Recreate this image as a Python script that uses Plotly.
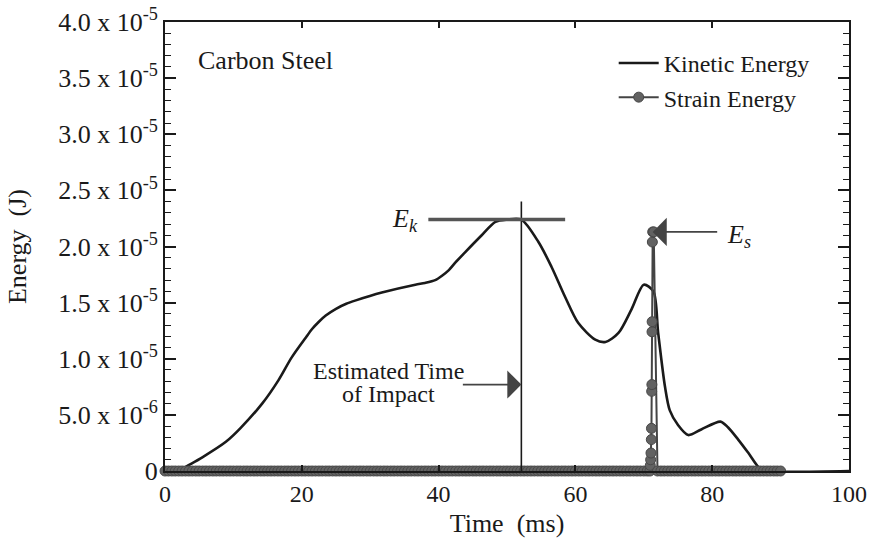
import plotly.graph_objects as go

# ---------------- data ----------------
kinetic_time = [0, 2.0, 3.1, 5.4, 8.9, 11.0, 14.2, 16.6, 18.5, 20.6, 21.5, 22.5, 23.5,
                25.0, 26.5, 27.9, 31.7, 36.6, 38.0, 39.5, 40.5, 41.5, 42.5, 43.9, 46.3,
                48.3, 50.0, 52.1, 54.6, 56.5, 58.5, 60.4, 62.9, 64.4, 66.3, 68.2, 70.0,
                71.4, 72.1, 73.1, 73.8, 75.0, 76.5, 78.4, 81.2, 82.3, 83.8, 85.3, 87.0,
                88.0, 100.0]
kinetic_energy = [0, 0, 0.04e-5, 0.12e-5, 0.26e-5, 0.38e-5, 0.60e-5, 0.81e-5, 1.01e-5,
                  1.19e-5, 1.265e-5, 1.33e-5, 1.385e-5, 1.445e-5, 1.49e-5, 1.52e-5,
                  1.59e-5, 1.66e-5, 1.675e-5, 1.70e-5, 1.74e-5, 1.79e-5, 1.86e-5,
                  1.95e-5, 2.10e-5, 2.22e-5, 2.24e-5, 2.24e-5, 2.04e-5, 1.82e-5, 1.55e-5,
                  1.32e-5, 1.17e-5, 1.15e-5, 1.23e-5, 1.44e-5, 1.66e-5, 1.60e-5, 1.23e-5,
                  0.75e-5, 0.54e-5, 0.41e-5, 0.32e-5, 0.37e-5, 0.44e-5, 0.39e-5, 0.28e-5,
                  0.16e-5, 0.02e-5, 0, 0]

strain_time = [0, 0.5, 1, 1.5, 2, 2.5, 3, 3.5, 4, 4.5, 5, 5.5, 6, 6.5, 7, 7.5, 8, 8.5,
               9, 9.5, 10, 10.5, 11, 11.5, 12, 12.5, 13, 13.5, 14, 14.5, 15, 15.5, 16,
               16.5, 17, 17.5, 18, 18.5, 19, 19.5, 20, 20.5, 21, 21.5, 22, 22.5, 23,
               23.5, 24, 24.5, 25, 25.5, 26, 26.5, 27, 27.5, 28, 28.5, 29, 29.5, 30,
               30.5, 31, 31.5, 32, 32.5, 33, 33.5, 34, 34.5, 35, 35.5, 36, 36.5, 37,
               37.5, 38, 38.5, 39, 39.5, 40, 40.5, 41, 41.5, 42, 42.5, 43, 43.5, 44,
               44.5, 45, 45.5, 46, 46.5, 47, 47.5, 48, 48.5, 49, 49.5, 50, 50.5, 51,
               51.5, 52, 52.5, 53, 53.5, 54, 54.5, 55, 55.5, 56, 56.5, 57, 57.5, 58,
               58.5, 59, 59.5, 60, 60.5, 61, 61.5, 62, 62.5, 63, 63.5, 64, 64.5, 65,
               65.5, 66, 66.5, 67, 67.5, 68, 68.5, 69, 69.5, 70, 70.5,
               70.9, 70.95, 71.0, 71.05, 71.1, 71.12, 71.15, 71.18, 71.2, 71.22, 71.25,
               71.3, 71.45, 72, 72.5, 73, 73.5, 74, 74.5, 75, 75.5, 76, 76.5, 77,
               77.5, 78, 78.5, 79, 79.5, 80, 80.5, 81, 81.5, 82, 82.5, 83, 83.5, 84,
               84.5, 85, 85.5, 86, 86.5, 87, 87.5, 88, 88.5, 89, 89.5, 90]
strain_energy = [0, 0, 0, 0, 0, 0, 0, 0, 0, 0, 0, 0, 0, 0, 0, 0, 0, 0,
                 0, 0, 0, 0, 0, 0, 0, 0, 0, 0, 0, 0, 0, 0, 0,
                 0, 0, 0, 0, 0, 0, 0, 0, 0, 0, 0, 0, 0, 0,
                 0, 0, 0, 0, 0, 0, 0, 0, 0, 0, 0, 0, 0, 0,
                 0, 0, 0, 0, 0, 0, 0, 0, 0, 0, 0, 0, 0, 0,
                 0, 0, 0, 0, 0, 0, 0, 0, 0, 0, 0, 0, 0, 0,
                 0, 0, 0, 0, 0, 0, 0, 0, 0, 0, 0, 0, 0, 0,
                 0, 0, 0, 0, 0, 0, 0, 0, 0, 0, 0, 0, 0, 0,
                 0, 0, 0, 0, 0, 0, 0, 0, 0, 0, 0, 0, 0, 0,
                 0, 0, 0, 0, 0, 0, 0, 0, 0, 0, 0, 0,
                 0.05e-5, 0.10e-5, 0.16e-5, 0.28e-5, 0.38e-5, 0.71e-5, 0.77e-5, 1.24e-5,
                 1.33e-5, 2.04e-5, 2.13e-5, 2.13e-5, 0, 0, 0, 0, 0, 0, 0, 0, 0,
                 0, 0, 0, 0, 0, 0, 0, 0, 0, 0, 0, 0, 0, 0, 0, 0, 0, 0, 0, 0, 0, 0, 0,
                 0, 0, 0, 0, 0, 0, 0, 0, 0, 0, 0, 0, 0, 0]

y_tick_values = [0, 0.5e-5, 1.0e-5, 1.5e-5, 2.0e-5, 2.5e-5, 3.0e-5, 3.5e-5, 4.0e-5]
y_tick_labels = ["0", "5.0 x 10<sup>-6</sup>", "1.0 x 10<sup>-5</sup>",
                 "1.5 x 10<sup>-5</sup>", "2.0 x 10<sup>-5</sup>", "2.5 x 10<sup>-5</sup>",
                 "3.0 x 10<sup>-5</sup>", "3.5 x 10<sup>-5</sup>", "4.0 x 10<sup>-5</sup>"]
x_tick_values = [0, 20, 40, 60, 80, 100]

impact_time = 52.1          # estimated time of impact (ms)
impact_line_top = 2.4e-5
ek_value = 2.24e-5          # E_k marker level
ek_line_start, ek_line_end = 38.5, 58.5
es_time, es_value = 71.3, 2.13e-5

FONT = "Times New Roman, Liberation Serif, serif"
INK = "#1a1a1a"

fig = go.Figure()
fig.add_trace(go.Scatter(
    x=kinetic_time, y=kinetic_energy, name="Kinetic Energy", mode="lines",
    line=dict(color=INK, width=2.6, shape="spline", smoothing=0.8), cliponaxis=False))
fig.add_trace(go.Scatter(
    x=strain_time, y=strain_energy, name="Strain Energy", mode="lines+markers",
    line=dict(color="#444444", width=2),
    marker=dict(size=10, color="#626262", line=dict(color="#484848", width=1)),
    cliponaxis=False))

# reference lines
fig.add_shape(type="line", x0=impact_time, x1=impact_time, y0=0, y1=impact_line_top,
              line=dict(color=INK, width=1.6))
fig.add_shape(type="line", x0=ek_line_start, x1=ek_line_end, y0=ek_value, y1=ek_value,
              line=dict(color="#555555", width=3.5))

# annotations
fig.add_annotation(x=ek_line_start, y=ek_value, xanchor="right", yanchor="middle",
                   xshift=-8, showarrow=False,
                   text="<i>E<sub>k</sub></i>", font=dict(family=FONT, size=26, color=INK))
fig.add_annotation(x=es_time, y=es_value, ax=66, ay=0, text="", showarrow=True,
                   arrowhead=1, arrowsize=2.6, arrowwidth=1.8, arrowcolor="#444444")
fig.add_annotation(x=es_time, y=es_value, xanchor="left", yanchor="middle",
                   xshift=72, yshift=-4, showarrow=False,
                   text="<i>E<sub>s</sub></i>", font=dict(family=FONT, size=26, color=INK))
fig.add_annotation(x=impact_time, y=0.77e-5, ax=-60, ay=0, text="", showarrow=True,
                   arrowhead=1, arrowsize=2.6, arrowwidth=1.8, arrowcolor="#444444")
fig.add_annotation(x=32.7, y=0.89e-5, showarrow=False, text="Estimated Time",
                   font=dict(family=FONT, size=24, color=INK))
fig.add_annotation(x=32.7, y=0.69e-5, showarrow=False, text="of Impact",
                   font=dict(family=FONT, size=24, color=INK))
fig.add_annotation(x=0.045, y=0.915, xref="paper", yref="paper", xanchor="left",
                   yanchor="middle", showarrow=False, text="Carbon Steel",
                   font=dict(family=FONT, size=26, color=INK))

fig.update_xaxes(range=[0, 100], tickvals=x_tick_values, ticks="inside", ticklen=6,
                 tickwidth=1.5, tickcolor=INK, showline=True, linecolor=INK, linewidth=2,
                 mirror="ticks", showgrid=False, zeroline=False, automargin=False,
                 tickfont=dict(family=FONT, size=24, color=INK),
                 title=dict(text="Time  (ms)", font=dict(family=FONT, size=26, color=INK),
                            standoff=8))
fig.update_yaxes(range=[0, 4e-5], tickvals=y_tick_values, ticktext=y_tick_labels,
                 ticks="inside", ticklen=11, tickwidth=1.5, tickcolor=INK,
                 minor=dict(dtick=1e-6, ticks="inside", ticklen=6, tickwidth=1.3,
                            tickcolor=INK, showgrid=False),
                 showline=True, linecolor=INK, linewidth=2, mirror="ticks",
                 showgrid=False, zeroline=False, automargin=False,
                 ticklabeloverflow="allow",
                 tickfont=dict(family=FONT, size=26, color=INK),
                 title=dict(text="Energy  (J)", font=dict(family=FONT, size=26, color=INK),
                            standoff=24))

fig.update_layout(
    width=877, height=552, margin=dict(l=165, r=28, t=22, b=81),
    paper_bgcolor="white", plot_bgcolor="white",
    showlegend=True,
    legend=dict(x=0.656, y=0.958, xanchor="left", yanchor="top",
                bgcolor="rgba(0,0,0,0)", font=dict(family=FONT, size=24, color=INK),
                tracegroupgap=0, itemwidth=40),
)

fig.write_html("out.html", config={"displayModeBar": False},
               post_script="document.body.style.margin='0px';")
